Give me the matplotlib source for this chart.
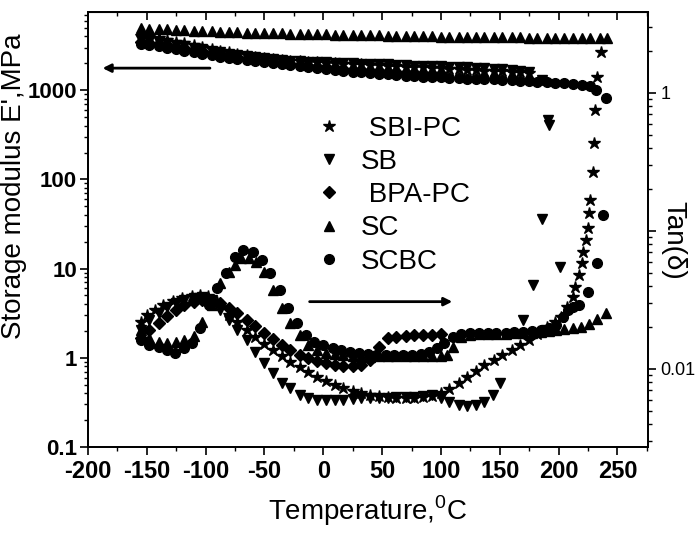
import matplotlib
matplotlib.use("Agg")
import matplotlib.pyplot as plt
from matplotlib.ticker import FixedLocator, FixedFormatter, LogLocator, NullFormatter, MultipleLocator

plt.rcParams["font.family"] = ["Liberation Sans", "DejaVu Sans"]
plt.rcParams["mathtext.fontset"] = "custom"
plt.rcParams["mathtext.rm"] = "Liberation Sans"

# ---------------------------------------------------------------------------
# Storage modulus E' (MPa), left axis
# ---------------------------------------------------------------------------
T_HI = [-155, -148, -140, -133, -125, -118, -110, -103, -95, -88,
        -80, -73, -65, -58, -50, -43, -35, -28, -20, -13,
        -5, 2, 10, 17, 25, 32, 40, 47, 55, 62,
        70, 77, 85, 92, 100, 107, 115, 122, 130, 137,
        145, 152, 160, 167, 175, 182, 190, 197, 205, 212,
        220, 227, 235]

T_E_SC = T_HI + [241]
E_SC = [5000, 4900, 4850, 4800, 4750, 4700, 4650, 4600, 4550, 4500,
        4480, 4450, 4420, 4400, 4370, 4350, 4320, 4300, 4280, 4260,
        4240, 4220, 4200, 4180, 4160, 4140, 4120, 4100, 4080, 4060,
        4050, 4040, 4020, 4000, 3990, 3980, 3970, 3960, 3950, 3940,
        3930, 3920, 3910, 3900, 3890, 3880, 3870, 3860, 3850, 3850,
        3840, 3840, 3840, 3850]

T_E_SB = T_HI[:45] + [186]
E_SB = [3650, 3550, 3460, 3380, 3200, 3100, 2960, 2880, 2760, 2650,
        2560, 2470, 2400, 2330, 2290, 2230, 2170, 2140, 2110, 2090,
        2070, 2050, 2030, 2010, 2000, 1990, 1970, 1960, 1950, 1930,
        1910, 1890, 1880, 1870, 1860, 1840, 1820, 1800, 1790, 1770,
        1740, 1710, 1680, 1640, 1590, 1300]

T_E_SBI = T_HI[:45]
E_SBI = [4000, 3900, 3800, 3650, 3500, 3350, 3200, 3050, 2900, 2780,
         2650, 2550, 2450, 2370, 2300, 2240, 2190, 2150, 2110, 2080,
         2050, 2020, 2000, 1980, 1960, 1940, 1920, 1900, 1880, 1860,
         1840, 1820, 1800, 1780, 1760, 1740, 1720, 1700, 1680, 1660,
         1640, 1620, 1600, 1580, 1560]

T_E_BPA = T_HI[:35]
E_BPA = [3460, 3380, 3290, 3200, 3050, 2960, 2810, 2740, 2600, 2530,
         2410, 2350, 2240, 2190, 2130, 2080, 2020, 1980, 1920, 1880,
         1840, 1800, 1760, 1730, 1700, 1670, 1640, 1620, 1600, 1580,
         1560, 1540, 1520, 1510, 1500]

T_E_SCBC = T_HI[:52] + [232]
E_SCBC = [3290, 3200, 3120, 3000, 2880, 2770, 2670, 2570, 2470, 2380,
          2290, 2220, 2170, 2110, 2060, 2010, 1960, 1910, 1860, 1820,
          1780, 1740, 1690, 1650, 1610, 1580, 1550, 1520, 1500, 1480,
          1460, 1440, 1420, 1400, 1390, 1370, 1360, 1350, 1340, 1330,
          1320, 1300, 1290, 1270, 1260, 1240, 1220, 1200, 1190, 1170,
          1140, 1100, 1000]

# ---------------------------------------------------------------------------
# Tan(delta), right axis
# ---------------------------------------------------------------------------
T_D_SBI = [-155, -150, -143, -136, -128, -120, -112, -105, -98, -90,
           -80, -73, -65, -58, -50, -43, -35, -28, -20, -13,
           -5, 2, 10, 17, 25, 32, 40, 47, 55, 62,
           70, 77, 85, 92, 100, 107, 115, 122, 130, 137,
           145, 152, 160, 167, 175, 182, 190, 197, 202, 207,
           212, 214, 217, 220, 221, 223, 225, 226, 227, 229,
           230, 231, 233, 236]
D_SBI = [0.0219, 0.0246, 0.0268, 0.0290, 0.0311, 0.0326, 0.0338, 0.0343, 0.0338, 0.0306,
         0.0246, 0.0219, 0.0192, 0.0171, 0.0152, 0.0137, 0.0124, 0.0112, 0.0104, 0.00951,
         0.00874, 0.00818, 0.00764, 0.00726, 0.00693, 0.00670, 0.00648, 0.00637, 0.00627, 0.00616,
         0.00616, 0.00616, 0.00627, 0.00637, 0.00670, 0.00716, 0.00789, 0.00874, 0.00968, 0.0107,
         0.0116, 0.0126, 0.0137, 0.0149, 0.0162, 0.0179, 0.0201, 0.0219, 0.0238, 0.0281,
         0.0332, 0.0393, 0.0481, 0.0586, 0.0704, 0.0861, 0.105, 0.135, 0.168, 0.268,
         0.434, 0.753, 1.31, 1.98]

T_D_SB = [-155, -148, -140, -133, -125, -118, -110, -103, -95, -88,
          -80, -73, -65, -58, -50, -43, -35, -28, -20, -13,
          -5, 2, 10, 17, 25, 32, 40, 47, 55, 62,
          70, 77, 85, 92, 100, 107, 115, 122, 130, 137,
          144, 150, 170, 178, 186, 191, 192, 201]
D_SB = [0.0192, 0.0226, 0.0255, 0.0281, 0.0301, 0.0316, 0.0326, 0.0332, 0.0316, 0.0268,
        0.0226, 0.0192, 0.0162, 0.0133, 0.0111, 0.00935, 0.00789, 0.00726, 0.00648, 0.00616,
        0.00596, 0.00596, 0.00596, 0.00596, 0.00606, 0.00616, 0.00616, 0.00616, 0.00616, 0.00627,
        0.00627, 0.00627, 0.00637, 0.00648, 0.00616, 0.00576, 0.00548, 0.00539, 0.00548, 0.00576,
        0.00648, 0.00789, 0.0226, 0.0406, 0.122, 0.637, 0.586, 0.0548]

T_D_BPA = [-155, -148, -140, -133, -125, -118, -110, -103, -95, -88,
           -80, -73, -65, -58, -50, -43, -35, -28, -20, -13,
           -5, 2, 10, 17, 25, 32, 40, 47, 55, 62,
           70, 77, 85, 92, 100]
D_BPA = [0.0168, 0.0192, 0.0216, 0.0242, 0.0268, 0.0290, 0.0306, 0.0316, 0.0311, 0.0301,
         0.0277, 0.0255, 0.0226, 0.0205, 0.0182, 0.0165, 0.0149, 0.0137, 0.0126, 0.0120,
         0.0114, 0.0111, 0.0107, 0.0105, 0.0105, 0.0107, 0.0116, 0.0145, 0.0168, 0.0171,
         0.0174, 0.0177, 0.0177, 0.0177, 0.0179]

T_D_SC = [-155, -148, -140, -133, -125, -118, -110, -103, -95, -88,
          -80, -75, -70, -63, -57, -50, -43, -35, -28, -20,
          -13, -5, 2, 10, 17, 25, 32, 40, 47, 55,
          62, 70, 77, 85, 92, 100, 105, 110, 117, 125,
          132, 140, 147, 155, 162, 170, 177, 185, 192, 198,
          205, 212, 219, 226, 233, 240]
D_SC = [0.0192, 0.0168, 0.0157, 0.0154, 0.0157, 0.0162, 0.0174, 0.0219, 0.0290, 0.0419,
        0.0506, 0.0568, 0.0636, 0.0636, 0.0596, 0.0506, 0.0374, 0.0277, 0.0216, 0.0177,
        0.0149, 0.0137, 0.0131, 0.0128, 0.0126, 0.0124, 0.0122, 0.0122, 0.0124, 0.0124,
        0.0124, 0.0124, 0.0124, 0.0124, 0.0124, 0.0124, 0.0126, 0.0145, 0.0171, 0.0177,
        0.0179, 0.0179, 0.0179, 0.0179, 0.0182, 0.0182, 0.0182, 0.0185, 0.0188, 0.0192,
        0.0195, 0.0198, 0.0201, 0.0212, 0.0230, 0.0255]

T_D_SCBC = [-155, -148, -140, -133, -126, -118, -112, -105, -97, -90,
            -83, -75, -68, -60, -52, -45, -37, -30, -22, -15,
            -8, 0, 8, 15, 23, 30, 38, 45, 53, 60,
            68, 75, 83, 90, 97, 103, 110, 117, 125, 132,
            140, 147, 155, 162, 170, 177, 185, 192, 198, 204,
            208, 212, 217, 225, 233, 238, 240]
D_SCBC = [0.0162, 0.0149, 0.0145, 0.0137, 0.0131, 0.0143, 0.0154, 0.0198, 0.0290, 0.0386,
          0.0496, 0.0648, 0.0728, 0.0704, 0.0616, 0.0496, 0.0374, 0.0277, 0.0216, 0.0177,
          0.0157, 0.0149, 0.0143, 0.0137, 0.0133, 0.0131, 0.0128, 0.0126, 0.0126, 0.0126,
          0.0126, 0.0126, 0.0128, 0.0133, 0.0143, 0.0154, 0.0171, 0.0179, 0.0182, 0.0182,
          0.0182, 0.0182, 0.0182, 0.0185, 0.0185, 0.0188, 0.0192, 0.0198, 0.0209, 0.0238,
          0.0268, 0.0281, 0.0290, 0.0362, 0.0586, 0.131, 0.92]

LABELS = [" SBI-PC", "SB", " BPA-PC", "SC", "SCBC"]
MARKERS = ["*", "v", "D", "^", "o"]
SIZES = [9, 7.5, 6, 7.5, 7]

modulus = [(T_E_SBI, E_SBI), (T_E_SB, E_SB), (T_E_BPA, E_BPA), (T_E_SC, E_SC), (T_E_SCBC, E_SCBC)]
tan_delta = [(T_D_SBI, D_SBI), (T_D_SB, D_SB), (T_D_BPA, D_BPA), (T_D_SC, D_SC), (T_D_SCBC, D_SCBC)]

fig = plt.figure(figsize=(6.98, 5.38), dpi=100)
ax = fig.add_axes([0.1261, 0.1691, 0.8023, 0.8086])
ax2 = ax.twinx()

for (t, e), m, s in zip(modulus, MARKERS, SIZES):
    ax.plot(t, e, ls="none", marker=m, ms=s, color="black", mec="black")

handles = []
for (t, d), m, s, lab in zip(tan_delta, MARKERS, SIZES, LABELS):
    h, = ax2.plot(t, d, ls="none", marker=m, ms=s, color="black", mec="black", label=lab)
    handles.append(h)

# left axis
ax.set_xlim(-200, 276)
ax.set_yscale("log")
ax.set_ylim(0.1, 7520)
ax.yaxis.set_major_locator(FixedLocator([0.1, 1, 10, 100, 1000]))
ax.yaxis.set_major_formatter(FixedFormatter(["0.1", "1", "10", "100", "1000"]))
ax.yaxis.set_minor_locator(LogLocator(base=10, subs=range(2, 10)))
ax.yaxis.set_minor_formatter(NullFormatter())

xt = list(range(-200, 251, 50))
ax.xaxis.set_major_locator(FixedLocator(xt))
ax.xaxis.set_major_formatter(FixedFormatter([str(v) for v in xt]))
ax.xaxis.set_minor_locator(MultipleLocator(25))
ax.tick_params(which="major", direction="out", length=6, width=1.2, labelsize=17, pad=3)
ax.tick_params(axis="y", which="major", labelsize=16, pad=2)
ax.tick_params(which="minor", direction="out", length=3, width=1.0)
for lab in ax.get_xticklabels() + ax.get_yticklabels():
    lab.set_fontweight("bold")

# right axis
ax2.set_yscale("log")
ax2.set_ylim(0.00272, 3.86)
ax2.yaxis.set_major_locator(FixedLocator([0.01, 0.1, 1]))
ax2.yaxis.set_major_formatter(FixedFormatter(["0.01", "", "1"]))
ax2.yaxis.set_minor_locator(LogLocator(base=10, subs=range(2, 10)))
ax2.yaxis.set_minor_formatter(NullFormatter())
ax2.tick_params(which="major", direction="out", length=6, width=1.2, labelsize=13, pad=3)
ax2.tick_params(which="minor", direction="out", length=3, width=1.0)

# top mirror ticks pointing inward
top = ax.secondary_xaxis("top")
top.xaxis.set_major_locator(FixedLocator(xt))
top.xaxis.set_minor_locator(MultipleLocator(25))
top.tick_params(which="major", direction="in", length=6, width=1.2, labeltop=False)
top.tick_params(which="minor", direction="in", length=3, width=1.0)

for sp in list(ax.spines.values()) + list(ax2.spines.values()):
    sp.set_linewidth(1.3)

ax.set_xlabel("Temperature,$^0$C", fontsize=20, labelpad=8)
ax.set_ylabel("Storage modulus E',MPa", fontsize=20, va="center")
ax.yaxis.set_label_coords(-0.133, 0.60)
ax2.set_ylabel("Tan(δ)", fontsize=20, rotation=-90, va="center", ha="center")
ax2.yaxis.set_label_coords(1.045, 0.476)

# direction arrows
ax.annotate("", xy=(-190, 1766), xytext=(-94, 1766),
            arrowprops=dict(arrowstyle="-|>", color="black", lw=2, mutation_scale=12))
ax.annotate("", xy=(112, 4.26), xytext=(-14, 4.26),
            arrowprops=dict(arrowstyle="-|>", color="black", lw=2, mutation_scale=12))

ax2.legend(handles=handles, loc="upper left", bbox_to_anchor=(0.361, 0.819),
           frameon=False, fontsize=20, handlelength=1.0, handletextpad=0.65,
           labelspacing=0.26, borderpad=0.4, numpoints=1)

fig.savefig("out.png", dpi=100)
